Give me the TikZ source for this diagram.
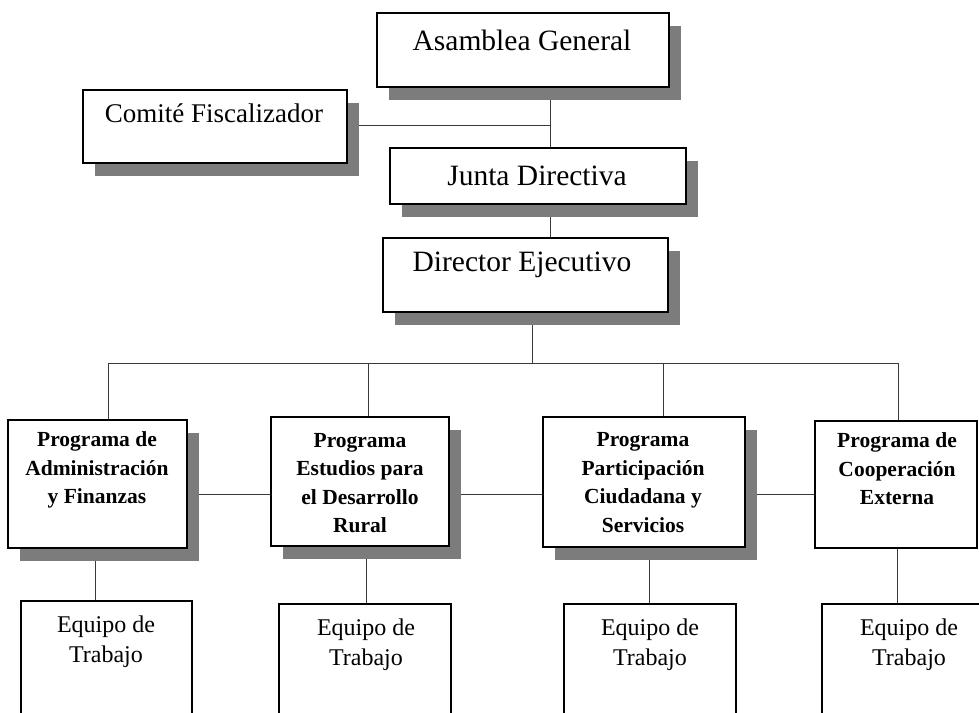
\documentclass[tikz,border=0pt]{standalone}
\usepackage{fontspec}
\setmainfont{Liberation Serif}
\usetikzlibrary{shadows,backgrounds}
\definecolor{shgray}{HTML}{7C7C7C}
\definecolor{linegray}{HTML}{3A3A3A}
\tikzset{
  orgbox/.style={draw=black, line width=1.1pt, fill=white, rectangle, inner sep=0pt},
  shbox/.style={orgbox, general shadow={fill=shgray, shadow xshift=12pt, shadow yshift=-13pt}},
  conn/.style={draw=linegray, line width=1pt},
  bigtxt/.style={font=\fontsize{29.5}{32}\selectfont, inner sep=0pt},
  progtxt/.style={font=\fontsize{21.5}{28.5}\selectfont\bfseries, align=center, inner sep=0pt},
  teamtxt/.style={font=\fontsize{24}{30}\selectfont, align=center, inner sep=0pt}
}
\begin{document}
\begin{tikzpicture}[x=1pt,y=-1pt]
\useasboundingbox (0,0) rectangle (979,712);
\clip (0,0) rectangle (979,712);
% top boxes
\node[shbox, minimum width=292pt, minimum height=74pt] (ag) at (523,50) {};
\node[bigtxt] (agt) at (522,40) {Asamblea General};
\node[shbox, minimum width=264pt, minimum height=73pt] (cf) at (215,126.5) {};
\node[bigtxt, font=\fontsize{27}{30}\selectfont] (cft) at (214,113) {Comité Fiscalizador};
\node[shbox, minimum width=296pt, minimum height=56pt] (jd) at (538,176) {};
\node[bigtxt] (jdt) at (537,176) {Junta Directiva};
\node[shbox, minimum width=285pt, minimum height=74pt] (de) at (525.5,275) {};
\node[bigtxt] (det) at (522,265) {Director Ejecutivo};
% programs
\node[shbox, minimum width=179pt, minimum height=128pt] (p1) at (97.5,484) {};
\node[progtxt] (p1t) at (97,470) {Programa de\\Administración\\y Finanzas};
\node[shbox, minimum width=178pt, minimum height=129pt] (p2) at (360,481.5) {};
\node[progtxt] (p2t) at (360,483) {Programa\\Estudios para\\el Desarrollo\\Rural};
\node[shbox, minimum width=202pt, minimum height=130pt] (p3) at (644,482) {};
\node[progtxt] (p3t) at (643,482.5) {Programa\\Participación\\Ciudadana y\\Servicios};
\node[orgbox, minimum width=162pt, minimum height=127pt] (p4) at (896,484.5) {};
\node[progtxt] (p4t) at (897,469) {Programa de\\Cooperación\\Externa};
% teams
\node[orgbox, minimum width=171pt, minimum height=130pt] (e1) at (106.5,666) {};
\node[teamtxt] (e1t) at (106,642) {Equipo de\\Trabajo};
\node[orgbox, minimum width=172pt, minimum height=130pt] (e2) at (365,669) {};
\node[teamtxt] (e2t) at (366,645) {Equipo de\\Trabajo};
\node[orgbox, minimum width=172pt, minimum height=130pt] (e3) at (650,669) {};
\node[teamtxt] (e3t) at (650,645) {Equipo de\\Trabajo};
\node[orgbox, minimum width=168pt, minimum height=130pt] (e4) at (906,669) {};
\node[teamtxt] (e4t) at (909,645) {Equipo de\\Trabajo};
% helper coordinates
\coordinate (spine) at (550,0);
\coordinate (dx) at (532,363);
\coordinate (b1) at (108,363);
\coordinate (b2) at (368,363);
\coordinate (b3) at (663,363);
\coordinate (b4) at (898,363);
\coordinate (cfy) at (0,125);
\coordinate (py) at (0,494);
\coordinate (t1) at (95,0);
\coordinate (t2) at (366,0);
\coordinate (t3) at (649,0);
\coordinate (t4) at (897,0);
\begin{scope}[on background layer]
\draw[conn] (ag.south -| spine) -- (jd.north -| spine);
\draw[conn] (cf.east |- cfy) -- (spine |- cfy);
\draw[conn] (jd.south -| spine) -- (de.north -| spine);
\draw[conn] (de.south -| dx) -- (dx);
\draw[conn] (b1) -- (b4);
\draw[conn] (b1) -- (p1.north -| b1);
\draw[conn] (b2) -- (p2.north -| b2);
\draw[conn] (b3) -- (p3.north -| b3);
\draw[conn] (b4) -- (p4.north -| b4);
\draw[conn] (p1.east |- py) -- (p4.west |- py);
\draw[conn] (p1.south -| t1) -- (e1.north -| t1);
\draw[conn] (p2.south -| t2) -- (e2.north -| t2);
\draw[conn] (p3.south -| t3) -- (e3.north -| t3);
\draw[conn] (p4.south -| t4) -- (e4.north -| t4);
\end{scope}
\end{tikzpicture}
\end{document}
